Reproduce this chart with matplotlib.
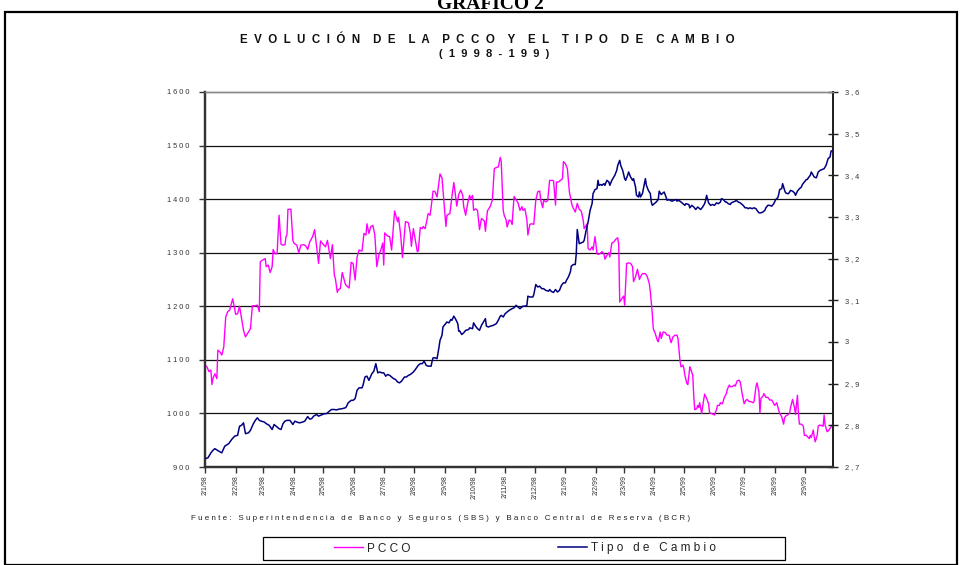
import numpy as np
import matplotlib
matplotlib.use("Agg")
import matplotlib.pyplot as plt
from matplotlib.patches import Rectangle

plt.rcParams['font.family'] = ['Liberation Sans', 'DejaVu Sans']

# ---------------- data (days counted from 2 Jan 1998) ----------------
START = np.datetime64("1998-01-02")
END = np.datetime64("1999-09-30")

pcco_day = [0, 2, 4, 6, 7, 8, 10, 12, 13, 15, 17, 19, 21, 23, 25, 28, 30, 31, 33, 35,
            37, 39, 41, 43, 46, 48, 51, 53, 55, 56, 58, 61, 62, 64, 66, 68, 69, 71, 73, 75,
            77, 79, 81, 82, 83, 84, 87, 89, 90, 93, 95, 97, 100, 102, 104, 106, 109, 111, 113, 115,
            117, 120, 122, 124, 127, 129, 131, 132, 134, 135, 137, 139, 142, 143, 146, 148, 150, 152, 154, 156,
            159, 161, 163, 164, 166, 168, 170, 172, 174, 176, 178, 180, 181, 182, 185, 187, 189, 192, 195, 196,
            198, 200, 203, 206, 208, 209, 211, 213, 215, 216, 218, 220, 221, 223, 225, 226, 228, 231, 233, 235,
            238, 240, 242, 244, 245, 248, 250, 252, 253, 255, 257, 259, 261, 262, 264, 266, 268, 269, 271, 272,
            274, 276, 278, 280, 283, 284, 286, 288, 289, 291, 293, 295, 297, 299, 300, 302, 303, 305, 306, 308,
            310, 311, 313, 315, 317, 319, 321, 322, 324, 326, 327, 329, 331, 333, 335, 337, 339, 340, 342, 343,
            345, 347, 349, 352, 353, 355, 356, 358, 360, 362, 363, 365, 367, 369, 371, 372, 375, 377, 379, 381,
            383, 384, 387, 388, 390, 392, 393, 395, 397, 398, 400, 402, 404, 405, 407, 409, 410, 412, 414, 416,
            418, 419, 420, 422, 424, 425, 427, 429, 431, 433, 434, 436, 438, 440, 441, 443, 446, 448, 450, 451,
            453, 454, 456, 458, 459, 461, 462, 464, 466, 468, 470, 472, 474, 476, 478, 479, 481, 482, 484, 485,
            486, 488, 489, 491, 492, 494, 495, 496, 498, 499, 500, 501, 503, 505, 506, 508, 510, 511, 513, 515,
            516, 518, 519, 521, 522, 524, 526, 528, 529, 531, 532, 534, 536, 537, 539, 541, 542, 544, 546, 548,
            549, 551, 553, 555, 556, 558, 559, 561, 562, 563, 565, 566, 568, 570, 572, 574, 576, 577, 579, 581,
            582, 584, 586, 587, 588, 590, 592, 593, 595, 597, 598, 600, 601, 602, 604, 606, 607, 609, 610, 612,
            613, 614, 616, 617, 618, 620, 621, 622, 624, 626, 627, 628, 630, 631, 633, 635, 636]
pcco = [1090, 1087, 1078, 1081, 1054, 1065, 1074, 1065, 1118, 1115, 1109, 1124, 1180, 1190, 1193, 1214, 1196, 1185, 1186, 1200,
        1177, 1155, 1143, 1149, 1158, 1201, 1201, 1202, 1190, 1283, 1286, 1289, 1274, 1277, 1263, 1274, 1306, 1298, 1298, 1370,
        1316, 1314, 1315, 1330, 1333, 1381, 1381, 1323, 1318, 1314, 1300, 1314, 1315, 1313, 1306, 1320, 1330, 1343, 1311, 1280,
        1322, 1315, 1311, 1323, 1289, 1315, 1258, 1252, 1226, 1231, 1233, 1263, 1242, 1239, 1234, 1282, 1280, 1249, 1292, 1305,
        1303, 1336, 1333, 1354, 1336, 1349, 1351, 1333, 1274, 1295, 1305, 1318, 1277, 1337, 1331, 1330, 1305, 1378, 1358, 1366,
        1336, 1291, 1358, 1356, 1336, 1312, 1345, 1323, 1302, 1303, 1347, 1345, 1349, 1345, 1364, 1373, 1370, 1415, 1414, 1404,
        1447, 1440, 1395, 1349, 1370, 1373, 1404, 1431, 1417, 1387, 1409, 1417, 1407, 1386, 1370, 1392, 1407, 1401, 1407, 1379,
        1382, 1379, 1343, 1364, 1359, 1340, 1378, 1384, 1387, 1398, 1457, 1459, 1460, 1478, 1470, 1379, 1370, 1361, 1348, 1361,
        1359, 1353, 1405, 1399, 1393, 1379, 1386, 1379, 1382, 1361, 1333, 1353, 1354, 1353, 1398, 1414, 1415, 1398, 1384, 1398,
        1395, 1397, 1435, 1435, 1434, 1389, 1432, 1432, 1435, 1438, 1470, 1466, 1457, 1414, 1395, 1387, 1376, 1392, 1381, 1378,
        1361, 1345, 1354, 1308, 1305, 1311, 1305, 1330, 1298, 1297, 1298, 1302, 1298, 1288, 1295, 1300, 1292, 1318, 1320, 1325,
        1328, 1314, 1208, 1214, 1219, 1202, 1280, 1281, 1280, 1274, 1246, 1255, 1269, 1250, 1255, 1261, 1261, 1255, 1242, 1227,
        1186, 1158, 1149, 1137, 1134, 1152, 1140, 1152, 1151, 1146, 1146, 1132, 1143, 1146, 1146, 1140, 1099, 1087, 1090, 1084,
        1071, 1056, 1054, 1087, 1082, 1071, 1031, 1007, 1009, 1015, 1011, 1020, 1000, 1025, 1036, 1028, 1018, 1001, 1000, 998,
        997, 1007, 1015, 1015, 1020, 1018, 1030, 1037, 1045, 1053, 1050, 1050, 1053, 1051, 1061, 1062, 1059, 1037, 1018, 1025,
        1026, 1022, 1022, 1020, 1022, 1050, 1057, 1040, 1001, 1028, 1032, 1037, 1030, 1030, 1025, 1025, 1018, 1015, 1020, 1006,
        1000, 994, 980, 992, 995, 997, 1000, 1011, 1026, 1011, 998, 1034, 1000, 980, 980, 976, 959, 959, 957, 953,
        959, 955, 969, 956, 947, 959, 976, 978, 978, 976, 997, 978, 966, 967, 972, 978, 981]

tc_day = [0, 3, 6, 8, 10, 14, 17, 20, 24, 27, 30, 33, 35, 37, 39, 41, 44, 46, 49, 51,
          53, 55, 57, 60, 62, 65, 68, 70, 73, 75, 77, 79, 81, 83, 86, 89, 91, 94, 96, 99,
          101, 104, 106, 108, 110, 113, 115, 118, 121, 123, 126, 128, 131, 133, 136, 139, 142, 143, 145, 148,
          150, 152, 154, 156, 159, 160, 162, 164, 166, 169, 171, 173, 175, 177, 179, 181, 183, 185, 187, 189,
          191, 193, 195, 197, 199, 202, 204, 206, 208, 211, 213, 216, 218, 220, 222, 224, 226, 229, 230, 231,
          233, 235, 237, 238, 240, 241, 243, 245, 247, 249, 250, 252, 254, 256, 257, 258, 260, 262, 264, 267,
          268, 271, 272, 274, 276, 278, 280, 283, 284, 285, 287, 289, 292, 295, 297, 299, 300, 302, 304, 306,
          308, 311, 313, 315, 317, 319, 321, 322, 324, 326, 327, 329, 332, 333, 335, 337, 339, 341, 343, 345,
          348, 349, 351, 353, 355, 357, 359, 361, 363, 365, 366, 368, 370, 371, 373, 375, 376, 377, 379, 381,
          383, 384, 386, 387, 388, 390, 392, 393, 395, 397, 398, 399, 401, 402, 404, 405, 407, 409, 410, 412,
          414, 415, 417, 418, 420, 421, 423, 425, 426, 428, 429, 431, 433, 434, 436, 437, 439, 440, 441, 443,
          445, 446, 447, 449, 451, 452, 453, 455, 457, 459, 460, 462, 463, 465, 466, 468, 469, 471, 473, 475,
          477, 478, 480, 482, 483, 485, 486, 487, 490, 491, 493, 495, 497, 499, 501, 502, 504, 506, 507, 508,
          510, 512, 514, 516, 518, 520, 522, 523, 525, 527, 528, 530, 532, 533, 535, 537, 538, 540, 542, 544,
          545, 547, 549, 550, 552, 554, 556, 558, 559, 561, 563, 565, 567, 568, 570, 572, 574, 576, 578, 580,
          581, 582, 584, 585, 587, 588, 590, 591, 593, 595, 597, 598, 600, 602, 604, 605, 607, 609, 610, 611,
          613, 614, 615, 617, 619, 620, 621, 623, 625, 627, 629, 630, 631, 633, 634, 636]
tc = [2.720, 2.722, 2.734, 2.740, 2.744, 2.738, 2.734, 2.750, 2.756, 2.766, 2.774, 2.776, 2.798, 2.800, 2.806, 2.780, 2.782, 2.788, 2.804, 2.812,
      2.818, 2.812, 2.810, 2.808, 2.804, 2.800, 2.790, 2.802, 2.796, 2.792, 2.790, 2.804, 2.810, 2.812, 2.812, 2.802, 2.810, 2.807, 2.806, 2.808,
      2.810, 2.821, 2.815, 2.816, 2.822, 2.826, 2.822, 2.825, 2.828, 2.828, 2.834, 2.838, 2.838, 2.837, 2.839, 2.840, 2.842, 2.844, 2.854, 2.860,
      2.860, 2.864, 2.884, 2.890, 2.890, 2.896, 2.916, 2.918, 2.908, 2.924, 2.930, 2.948, 2.926, 2.928, 2.926, 2.926, 2.918, 2.922, 2.920, 2.916,
      2.912, 2.910, 2.904, 2.902, 2.906, 2.916, 2.916, 2.920, 2.922, 2.928, 2.934, 2.944, 2.948, 2.948, 2.954, 2.944, 2.942, 2.942, 2.954, 2.962,
      2.962, 2.960, 2.988, 3.004, 3.016, 3.036, 3.042, 3.048, 3.046, 3.054, 3.052, 3.062, 3.054, 3.044, 3.026, 3.026, 3.018, 3.022, 3.028, 3.030,
      3.034, 3.032, 3.046, 3.038, 3.032, 3.028, 3.040, 3.052, 3.056, 3.038, 3.036, 3.038, 3.040, 3.044, 3.052, 3.062, 3.064, 3.060, 3.068, 3.072,
      3.076, 3.080, 3.082, 3.088, 3.084, 3.080, 3.084, 3.086, 3.086, 3.088, 3.110, 3.108, 3.108, 3.114, 3.138, 3.132, 3.134, 3.128, 3.128, 3.124,
      3.122, 3.126, 3.121, 3.119, 3.126, 3.120, 3.124, 3.136, 3.142, 3.142, 3.148, 3.156, 3.168, 3.182, 3.186, 3.186, 3.212, 3.270, 3.236, 3.238,
      3.240, 3.244, 3.268, 3.278, 3.288, 3.316, 3.332, 3.356, 3.366, 3.368, 3.388, 3.376, 3.378, 3.376, 3.380, 3.376, 3.388, 3.384, 3.376, 3.388,
      3.396, 3.400, 3.412, 3.424, 3.436, 3.424, 3.412, 3.392, 3.388, 3.400, 3.408, 3.396, 3.388, 3.392, 3.372, 3.352, 3.348, 3.360, 3.348, 3.356,
      3.380, 3.392, 3.376, 3.364, 3.356, 3.336, 3.328, 3.332, 3.336, 3.342, 3.362, 3.354, 3.356, 3.360, 3.354, 3.340, 3.342, 3.340, 3.338, 3.340,
      3.342, 3.338, 3.340, 3.336, 3.334, 3.330, 3.328, 3.332, 3.330, 3.322, 3.328, 3.324, 3.318, 3.324, 3.320, 3.318, 3.324, 3.332, 3.340, 3.352,
      3.334, 3.328, 3.330, 3.328, 3.334, 3.332, 3.336, 3.344, 3.342, 3.336, 3.336, 3.332, 3.330, 3.334, 3.336, 3.338, 3.340, 3.336, 3.334, 3.330,
      3.328, 3.322, 3.322, 3.320, 3.322, 3.320, 3.322, 3.320, 3.316, 3.310, 3.310, 3.312, 3.316, 3.322, 3.328, 3.328, 3.326, 3.332, 3.342, 3.346,
      3.354, 3.366, 3.368, 3.380, 3.364, 3.358, 3.356, 3.356, 3.364, 3.362, 3.358, 3.352, 3.362, 3.368, 3.372, 3.378, 3.384, 3.390, 3.390, 3.394,
      3.400, 3.408, 3.404, 3.396, 3.394, 3.400, 3.408, 3.412, 3.414, 3.416, 3.424, 3.432, 3.440, 3.444, 3.458, 3.460]

tick_dates = ["1998-01-02", "1998-02-02", "1998-03-02", "1998-04-02", "1998-05-02", "1998-06-02",
              "1998-07-02", "1998-08-02", "1998-09-02", "1998-10-02", "1998-11-02", "1998-12-02",
              "1999-01-02", "1999-02-02", "1999-03-02", "1999-04-02", "1999-05-02", "1999-06-02",
              "1999-07-02", "1999-08-02", "1999-09-02"]
tick_labels = ["2/1/98", "2/2/98", "2/3/98", "2/4/98", "2/5/98", "2/6/98", "2/7/98", "2/8/98",
               "2/9/98", "2/10/98", "2/11/98", "2/12/98", "2/1/99", "2/2/99", "2/3/99", "2/4/99",
               "2/5/99", "2/6/99", "2/7/99", "2/8/99", "2/9/99"]
left_ticks = [900, 1000, 1100, 1200, 1300, 1400, 1500, 1600]
right_ticks = [2.7, 2.8, 2.9, 3.0, 3.1, 3.2, 3.3, 3.4, 3.5, 3.6]
right_labels = ["2,7", "2,8", "2,9", "3", "3,1", "3,2", "3,3", "3,4", "3,5", "3,6"]

title = "EVOLUCIÓN DE LA PCCO Y EL TIPO DE CAMBIO"
subtitle = "(1998 - 199)"
source = "Fuente: Superintendencia de Banco y Seguros (SBS) y Banco Central de Reserva (BCR)"
series_names = ["PCCO", "Tipo de Cambio"]


def spaced(s, sep=" ", wsep="   "):
    return wsep.join(sep.join(w) for w in s.split(" "))


W, H = 960, 565
fig = plt.figure(figsize=(W / 100, H / 100), dpi=100)

# outer frame
fig.patches.append(Rectangle((5 / W, 0), (957 - 5) / W, 1 - 12 / H,
                             transform=fig.transFigure, fill=False, lw=1.6,
                             edgecolor='black', zorder=0))

fig.text(490 / W, 1 - 9 / H, "GRAFICO 2", ha='center', va='baseline',
         fontsize=14, weight='bold', family=['Liberation Serif', 'DejaVu Serif'])

fig.text(487 / W, 1 - 40 / H, spaced(title, "  ", "    "), ha='center', va='center',
         fontsize=8.3, weight='bold', color='#111111')
fig.text(494 / W, 1 - 54 / H, spaced(subtitle, "  ", "  "), ha='center', va='center',
         fontsize=8.0, weight='bold', color='#111111')

ax = fig.add_axes([205 / W, 1 - 467 / H, (833 - 205) / W, (467 - 92) / H])
ax2 = ax.twinx()

dates_p = START + np.array(pcco_day).astype('timedelta64[D]')
dates_t = START + np.array(tc_day).astype('timedelta64[D]')

l1, = ax.plot(dates_p, pcco, color='#FF00FF', lw=1.0, zorder=3)
l2, = ax2.plot(dates_t, tc, color='#000080', lw=1.1, zorder=3)

ax.set_xlim(START, END)
ax.set_ylim(900, 1600)
ax2.set_ylim(2.7, 3.6)

ax.set_yticks(left_ticks)
ax.set_yticklabels([spaced(str(v)) for v in left_ticks], fontsize=5.3, color='#333333')
ax2.set_yticks(right_ticks)
ax2.set_yticklabels([spaced(s) for s in right_labels], fontsize=5.3, color='#333333')

ax.set_xticks(np.array(tick_dates, dtype='datetime64[D]'))
ax.set_xticklabels(tick_labels, rotation=90, fontsize=5.0, color='#333333', va='top')

for v in left_ticks[1:-1]:
    ax.axhline(v, color='#111111', lw=0.9, zorder=1)

ax.tick_params(axis='y', direction='out', length=4, width=1, color='#333333', pad=7)
ax.tick_params(axis='x', direction='out', length=4, width=1, color='#333333', pad=2)
ax2.tick_params(axis='y', direction='inout', length=7, width=1, color='#222222', pad=5)

for a in (ax, ax2):
    a.spines['left'].set_color('#333333')
    a.spines['left'].set_linewidth(1.6)
    a.spines['bottom'].set_color('#333333')
    a.spines['bottom'].set_linewidth(1.6)
    a.spines['right'].set_color('#222222')
    a.spines['right'].set_linewidth(1.4)
    a.spines['top'].set_color('#888888')
    a.spines['top'].set_linewidth(1.0)
ax.patch.set_visible(False)

fig.text(191 / W, 1 - 519 / H, spaced(source, " ", "   "), ha='left', va='center',
         fontsize=5.8, color='#222222')

# legend box
fig.patches.append(Rectangle((263 / W, 1 - 560 / H), (785 - 263) / W, (560 - 537) / H,
                             transform=fig.transFigure, fill=False, lw=0.9,
                             edgecolor='black', zorder=5))
leg = fig.legend([l1, l2], [spaced(n) for n in series_names], loc='center',
                 bbox_to_anchor=(525 / W, 1 - 548.5 / H), ncol=2, frameon=False,
                 fontsize=8.5, handlelength=2.5, handletextpad=0.3, columnspacing=12.5,
                 borderpad=0.2)
for t in leg.get_texts():
    t.set_color('#222222')

fig.savefig("out.png", dpi=100)
